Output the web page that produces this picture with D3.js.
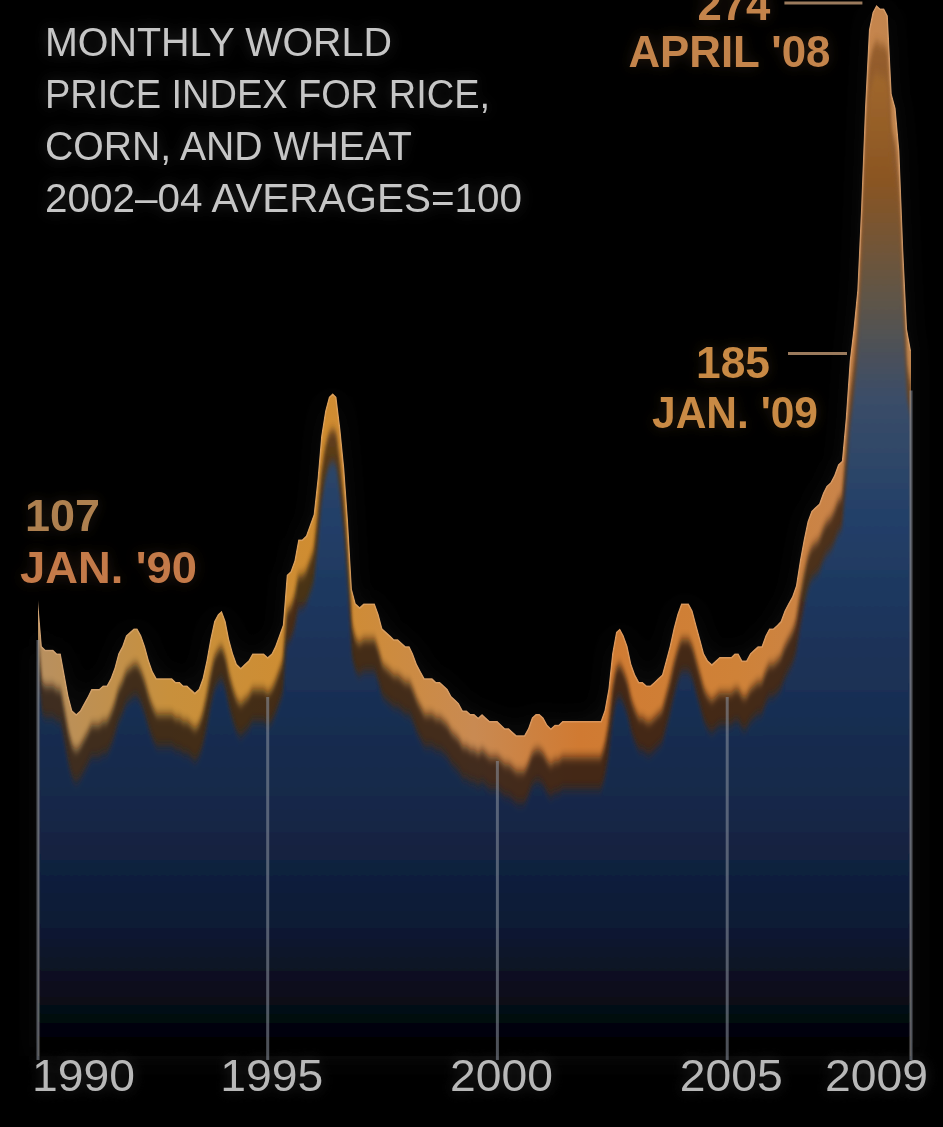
<!DOCTYPE html>
<html>
<head>
<meta charset="utf-8">
<script src="https://cdn.jsdelivr.net/npm/d3@7"></script>
<style>
  html, body { margin: 0; padding: 0; background: #000; }
  svg { display: block; }
</style>
</head>
<body>
<div id="chart"></div>
<script>
const titleLines = ['MONTHLY WORLD', 'PRICE INDEX FOR RICE,', 'CORN, AND WHEAT', '2002\u201304 AVERAGES=100'];
const tickYears = [1990, 1995, 2000, 2005, 2009];

// monthly index values, one row per year, Jan 1990 .. Jan 2009
const monthlyIndex = [
    107, 94, 93, 93, 93, 92, 92, 86, 80, 76, 75, 76,        // 1990
    78, 80, 82, 82, 82, 83, 83, 85, 88, 92, 94, 97,         // 1991
    98, 99, 99, 97, 94, 90, 87, 85, 85, 85, 85, 85,         // 1992
    84, 84, 83, 83, 82, 81, 82, 85, 90, 96, 101, 103,       // 1993
    104, 101, 96, 92, 89, 88, 89, 90, 92, 92, 92, 92,       // 1994
    91, 92, 94, 97, 100, 114, 115, 118, 124, 124, 125, 128, // 1995
    131, 141, 153, 160, 164, 165, 164, 155, 144, 129, 110, 106, // 1996
    105, 106, 106, 106, 106, 103, 99, 98, 97, 96, 96, 95,   // 1997
    94, 94, 92, 89, 87, 85, 85, 85, 84, 84, 83, 82,         // 1998
    80, 79, 78, 76, 76, 75, 75, 74, 75, 74, 73, 73,         // 1999
    73, 72, 71, 71, 70, 69, 69, 69, 71, 74, 75, 75,         // 2000
    74, 72, 71, 72, 72, 73, 73, 73, 73, 73, 73, 73,         // 2001
    73, 73, 73, 73, 76, 82, 92, 98, 99, 97, 94, 89,         // 2002
    86, 84, 84, 83, 83, 84, 85, 86, 90, 94, 99, 103,        // 2003
    106, 106, 106, 104, 100, 96, 92, 90, 89, 90, 91, 91,    // 2004
    91, 91, 92, 92, 90, 90, 92, 93, 94, 94, 97, 99,         // 2005
    99, 100, 101, 104, 106, 108, 111, 118, 124, 129, 132, 133, // 2006
    134, 137, 139, 140, 142, 145, 146, 158, 174, 183, 194, 217, // 2007
    245, 267, 272, 274, 273, 273, 271, 249, 245, 233, 205, 183, // 2008
    177                                                     // 2009
];

const calloutValues = ['107', '274', '185'];
const calloutDates = ["JAN. '90", "APRIL '08", "JAN. '09"];
const calloutMonths = [new Date(1990, 0, 1), new Date(2008, 3, 1), new Date(2009, 0, 1)];

(function () {

    let
        width = 943,
        height = 1127,
        base = 1056,
        data = monthlyIndex.map((v, i) => ({ date: new Date(1990, i, 1), v: v })),

        x = d3.scaleTime()
            .domain([new Date(1990, 0, 1), new Date(2009, 0, 1)])
            .range([38, 911]),

        y = d3.scaleLinear()
            .domain([-21, 274])
            .range([base, 5]),

        area = d3.area()
            .x(d => x(d.date))
            .y0(y(-21))
            .y1(d => y(d.v)),

        line = d3.line()
            .x(d => x(d.date))
            .y(d => y(d.v)),

        svg = d3.select('#chart')
            .append('svg')
            .attr('width', width)
            .attr('height', height)
            .style('background', '#000'),

        defs = svg.append('defs');

    defs.append('clipPath')
        .attr('id', 'areaClip')
        .append('path')
        .attr('d', area(data));

    // orange edge colour, varying along the years
    let bandGrad = defs.append('linearGradient')
        .attr('id', 'bandGrad')
        .attr('gradientUnits', 'userSpaceOnUse')
        .attr('x1', 38).attr('x2', 911).attr('y1', 0).attr('y2', 0);
    [[0, '#b89060'], [0.15, '#c8903c'], [0.33, '#d08c30'], [0.5, '#c98a52'],
     [0.62, '#d07a32'], [0.8, '#cf8238'], [0.92, '#c9844a'], [1, '#c08650']]
        .forEach(s => bandGrad.append('stop').attr('offset', s[0]).attr('stop-color', s[1]));

    function vGrad(id, shift, stops) {
        let g = defs.append('linearGradient')
            .attr('id', id)
            .attr('gradientUnits', 'userSpaceOnUse')
            .attr('x1', 0).attr('x2', 0)
            .attr('y1', 0 - shift).attr('y2', base - shift);
        stops.forEach(s => g.append('stop').attr('offset', s[0] / base).attr('stop-color', s[1]));
    }

    vGrad('darkGrad', 36, [[0, '#8a5424'], [300, '#6a4220'], [480, '#2a1a0e'], [620, '#1a1008'], [base, '#0a0806']]);
    vGrad('deepGrad', 68, [[0, '#b07434'], [180, '#8a5522'], [300, '#5e5448'], [400, '#3a4d68'],
        [520, '#223f68'], [650, '#1b3258'], [800, '#152849'], [930, '#0d1933'], [1000, '#070c18'], [1050, '#000']]);

    let soft = defs.append('filter').attr('id', 'softY')
        .attr('x', '-5%').attr('y', '-5%').attr('width', '110%').attr('height', '110%');
    soft.append('feGaussianBlur').attr('stdDeviation', '1.5 5');

    let halo = defs.append('filter').attr('id', 'halo')
        .attr('x', '-20%').attr('y', '-20%').attr('width', '140%').attr('height', '140%');
    halo.append('feGaussianBlur').attr('stdDeviation', 14);

    let glow = defs.append('filter').attr('id', 'glow')
        .attr('x', '-10%').attr('y', '-30%').attr('width', '120%').attr('height', '160%');
    glow.append('feGaussianBlur').attr('in', 'SourceGraphic').attr('stdDeviation', 7).attr('result', 'b');
    glow.append('feComponentTransfer').attr('in', 'b').attr('result', 'bf')
        .append('feFuncA').attr('type', 'linear').attr('slope', 0.22);
    glow.append('feGaussianBlur').attr('in', 'SourceGraphic').attr('stdDeviation', 0.6).attr('result', 's');
    let m = glow.append('feMerge');
    m.append('feMergeNode').attr('in', 'bf');
    m.append('feMergeNode').attr('in', 's');

    // faint haze behind the chart
    svg.append('path')
        .attr('d', area(data))
        .style('fill', '#2a2a2a')
        .style('opacity', 0.35)
        .attr('filter', 'url(#halo)');

    let chart = svg.append('g').attr('clip-path', 'url(#areaClip)');

    chart.append('path')
        .attr('d', area(data))
        .style('fill', 'url(#bandGrad)');

    chart.append('path')
        .attr('d', area(data))
        .attr('transform', 'translate(0,36)')
        .style('fill', 'url(#darkGrad)')
        .style('opacity', 0.75)
        .attr('filter', 'url(#softY)');

    chart.append('path')
        .attr('d', area(data))
        .attr('transform', 'translate(0,68)')
        .style('fill', 'url(#deepGrad)')
        .attr('filter', 'url(#softY)');

    chart.append('path')
        .attr('d', line(data))
        .style('fill', 'none')
        .style('stroke', '#e6b488')
        .style('stroke-width', 3)
        .style('opacity', 0.45);

    // year gridlines
    tickYears.forEach(yr => {
        let d = data.find(p => p.date.getFullYear() === yr && p.date.getMonth() === 0);
        svg.append('line')
            .attr('x1', x(d.date)).attr('x2', x(d.date))
            .attr('y1', y(d.v) + 40).attr('y2', base + 4)
            .style('stroke', '#8d94a0')
            .style('stroke-width', 3)
            .style('opacity', 0.55);
    });

    // year labels
    tickYears.forEach((yr, i) => {
        let px = x(new Date(yr, 0, 1)),
            last = i === tickYears.length - 1;
        svg.append('text')
            .attr('x', i === 0 ? px - 6 : last ? px + 17 : px + 4)
            .attr('y', 1091)
            .attr('text-anchor', i === 0 ? 'start' : last ? 'end' : 'middle')
            .attr('textLength', 103)
            .attr('lengthAdjust', 'spacingAndGlyphs')
            .style('font-family', '"Liberation Sans", Arial, sans-serif')
            .style('font-size', '44px')
            .style('fill', '#b8b8b8')
            .attr('filter', 'url(#glow)')
            .text(yr);
    });

    // title
    let titleWidths = [347, 445, 367, 477];
    titleLines.forEach((t, i) => {
        svg.append('text')
            .attr('x', 45)
            .attr('y', 56 + i * 52)
            .attr('textLength', titleWidths[i])
            .attr('lengthAdjust', 'spacingAndGlyphs')
            .style('font-family', '"Liberation Sans", Arial, sans-serif')
            .style('font-size', '40px')
            .style('fill', '#c6c6c6')
            .attr('filter', 'url(#glow)')
            .text(t);
    });

    // callouts
    function label(px, py, anchor, len, colour, txt) {
        svg.append('text')
            .attr('x', px)
            .attr('y', py)
            .attr('text-anchor', anchor)
            .attr('textLength', len)
            .attr('lengthAdjust', 'spacingAndGlyphs')
            .style('font-family', '"Liberation Sans Narrow", "Liberation Sans", Arial, sans-serif')
            .style('font-weight', 700)
            .style('font-size', '44px')
            .style('fill', colour)
            .attr('filter', 'url(#glow)')
            .text(txt);
    }

    function leader(x1, x2, ly) {
        svg.append('line')
            .attr('x1', x1).attr('x2', x2)
            .attr('y1', ly).attr('y2', ly)
            .style('stroke', '#9a7a5c')
            .style('stroke-width', 3);
    }

    let pts = calloutMonths.map(dt => {
        let d = data.find(p => +p.date === +dt);
        return [x(d.date), y(d.v)];
    });

    // Jan '90
    label(pts[0][0] - 13, pts[0][1] - 69, 'start', 75, '#ae8050', calloutValues[0]);
    label(pts[0][0] - 18, pts[0][1] - 17, 'start', 177, '#c47a48', calloutDates[0]);

    // April '08
    leader(pts[1][0] - 92, pts[1][0] - 14, pts[1][1] - 2);
    label(pts[1][0] - 106, pts[1][1] + 15, 'end', 73, '#c4844c', calloutValues[1]);
    label(pts[1][0] - 46, pts[1][1] + 62, 'end', 202, '#c4844c', calloutDates[1]);

    // Jan '09
    leader(pts[2][0] - 123, pts[2][0] - 64, pts[2][1] + 3);
    label(pts[2][0] - 141, pts[2][1] + 27, 'end', 74, '#c98a44', calloutValues[2]);
    label(pts[2][0] - 93, pts[2][1] + 77, 'end', 166, '#c98a44', calloutDates[2]);

})();
</script>
</body>
</html>
